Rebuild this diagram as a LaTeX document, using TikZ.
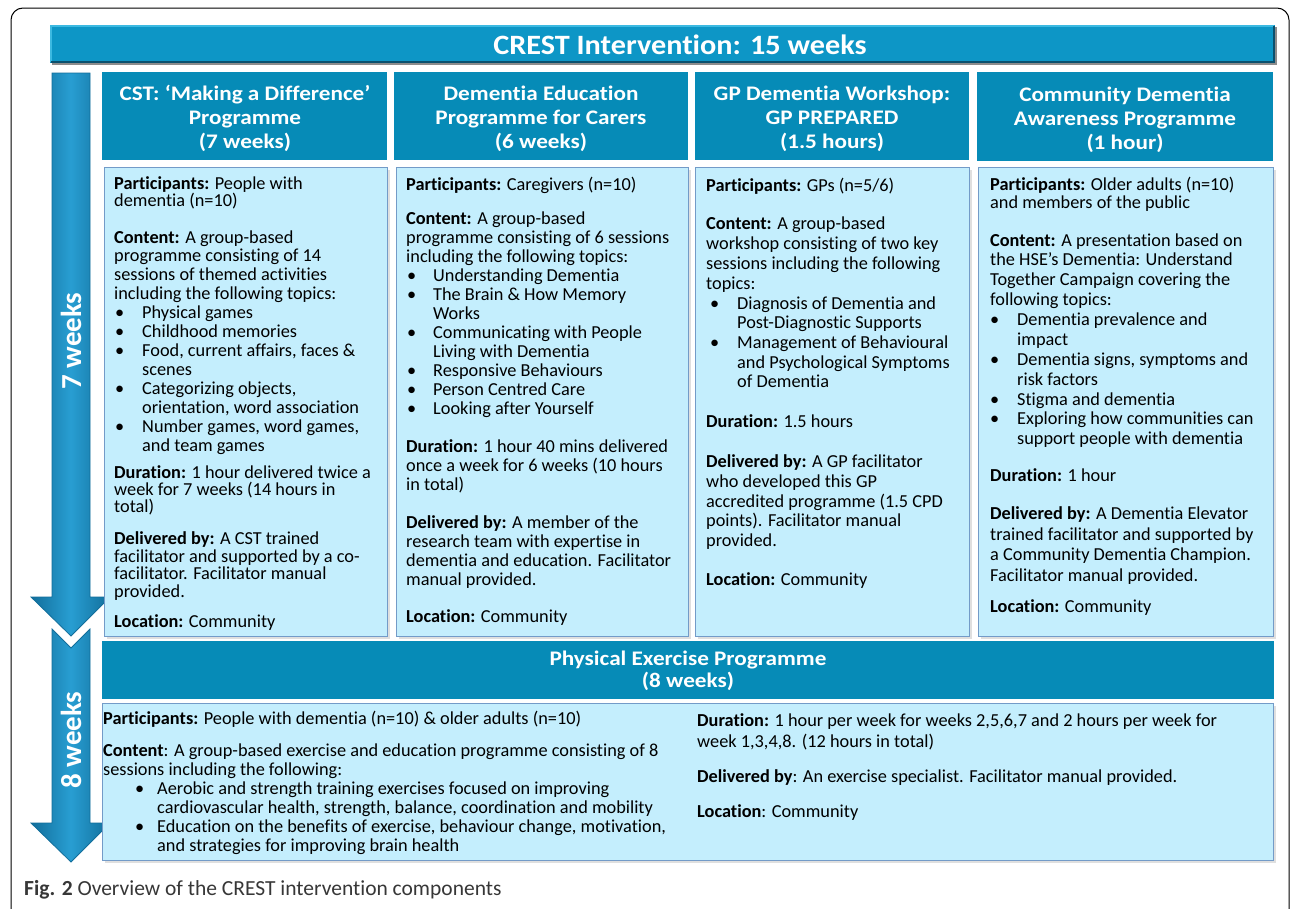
\documentclass[tikz,border=0pt]{standalone}
\usepackage{fontspec}
\setmainfont{Carlito}[Ligatures=NoCommon]
\newfontfamily\headfont{Carlito}[Ligatures=NoCommon, FakeStretch=1.12]
\newfontfamily\titlefont{Carlito}[Ligatures=NoCommon, FakeStretch=1.08]
\usetikzlibrary{shadows}
\definecolor{titlebar}{RGB}{13,150,198}
\definecolor{titledark}{RGB}{10,80,110}
\definecolor{titlelight}{RGB}{60,185,225}
\definecolor{headfill}{RGB}{6,139,183}
\definecolor{bodyfill}{RGB}{196,238,253}
\definecolor{bodyline}{RGB}{115,155,200}
\definecolor{arrowmid}{RGB}{40,158,210}
\definecolor{arrowedge}{RGB}{18,110,155}
\definecolor{capgray}{RGB}{55,55,55}
\newcounter{tn}
\newcommand\TL[3]{\stepcounter{tn}\node[txt] (t\arabic{tn}) at (#1,#2) {#3};}
\newcommand\BL[4]{\stepcounter{tn}\node[txt] (b\arabic{tn}) at (#1,#3) {\textbullet};\node[txt] (t\arabic{tn}) at (#2,#3) {#4};}
\newcommand\HL[3]{\stepcounter{tn}\node[htxt] (h\arabic{tn}) at (#1,#2) {#3};}
\tikzset{
  txt/.style={font=\fontsize{18.3}{19}\selectfont, inner sep=0pt, anchor=base west, text=black},
  htxt/.style={font=\headfont\fontsize{20.7}{25}\selectfont\bfseries, inner sep=0pt, anchor=base, text=white},
  headbox/.style={fill=headfill, draw=none, anchor=north west, inner sep=0pt},
  bodybox/.style={fill=bodyfill, draw=bodyline, line width=1pt, anchor=north west, inner sep=0pt,
    drop shadow={shadow xshift=2pt, shadow yshift=-2pt, opacity=0.25}},
  weekarrow/.style={left color=arrowedge, right color=arrowedge, middle color=arrowmid,
    draw=arrowedge, line width=0.8pt, line join=miter},
  weektxt/.style={text=white, rotate=90, font=\fontsize{29}{32}\selectfont\bfseries, inner sep=0pt}
}
\begin{document}
\begin{tikzpicture}[x=1pt,y=-1pt]
\useasboundingbox (0,0) rectangle (1290,908);
\fill[white] (0,0) rectangle (1290,908);
% outer frame
\draw[line width=1pt, rounded corners=12pt] (11,8) rectangle (1289,925);

% title bar
\node[fill=black!45, minimum width=1225pt, minimum height=38pt, anchor=north west, inner sep=0pt] (titleshadow) at (52,27) {};
\node[fill=titlebar, minimum width=1225pt, minimum height=38pt, anchor=north west, inner sep=0pt] (title) at (50,25) {};
\draw[titlelight, line width=2pt] (title.south west) ++(1,-1) |- ([xshift=-1pt,yshift=-1pt]title.north east);
\draw[titledark, line width=2pt] ([xshift=1pt,yshift=1pt]title.south west) -| ([xshift=-1pt,yshift=-1pt]title.north east);
\node[text=white, font=\titlefont\fontsize{28}{32}\selectfont\bfseries, inner sep=0pt] (titletext) at (680,45) {CREST Intervention: 15 weeks};

% week arrows
\path[weekarrow] (52,73) -- (90,73) -- (90,597) -- (110,597) -- (71,636) -- (31,597) -- (52,597) -- cycle;
\path[weekarrow] (52,629) -- (71,648) -- (90,629) -- (90,823) -- (110,823) -- (71,862) -- (31,823) -- (52,823) -- cycle;
\node[weektxt] (w7) at (71,341) {7 weeks};
\node[weektxt] (w8) at (71,740) {8 weeks};

% headers
\node[headbox, minimum width=285pt, minimum height=88pt] (h1) at (102,72) {};
\node[headbox, minimum width=294pt, minimum height=88pt] (h2) at (394,72) {};
\node[headbox, minimum width=274pt, minimum height=88pt] (h3) at (695,72) {};
\node[headbox, minimum width=296pt, minimum height=89pt] (h4) at (977,72) {};
\HL{245}{100}{CST: ‘Making a Difference’}
\HL{245}{124}{Programme}
\HL{245}{148}{(7 weeks)}
\HL{541}{100}{Dementia Education}
\HL{541}{124}{Programme for Carers}
\HL{541}{148}{(6 weeks)}
\HL{832}{100}{GP Dementia Workshop:}
\HL{832}{124}{GP PREPARED}
\HL{832}{148}{(1.5 hours)}
\HL{1125}{101}{Community Dementia}
\HL{1125}{125}{Awareness Programme}
\HL{1125}{149}{(1 hour)}

% body boxes
\node[bodybox, minimum width=283pt, minimum height=469pt] (c1) at (104,167) {};
\node[bodybox, minimum width=292pt, minimum height=469pt] (c2) at (396,167) {};
\node[bodybox, minimum width=274pt, minimum height=469pt] (c3) at (695,167) {};
\node[bodybox, minimum width=295pt, minimum height=469pt] (c4) at (978,167) {};

% exercise
\node[headbox, minimum width=1172pt, minimum height=58pt] (h5) at (102,641) {};
\HL{688}{665}{Physical Exercise Programme}
\HL{688}{687}{(8 weeks)}
\node[bodybox, minimum width=1171pt, minimum height=157pt] (c5) at (102,703) {};

% column 1 text
\TL{114}{189}{\textbf{Participants:} People with}
\TL{114}{206}{dementia (n=10)}
\TL{114}{243}{\textbf{Content:} A group-based}
\TL{114}{261}{programme consisting of 14}
\TL{114}{280}{sessions of themed activities}
\TL{114}{299}{including the following topics:}
\BL{115}{142}{318}{Physical games}
\BL{115}{142}{337}{Childhood memories}
\BL{115}{142}{356}{Food, current affairs, faces \&}
\TL{142}{375}{scenes}
\BL{115}{142}{394}{Categorizing objects,}
\TL{142}{413}{orientation, word association}
\BL{115}{142}{432}{Number games, word games,}
\TL{142}{451}{and team games}
\TL{114}{478}{\textbf{Duration:} 1 hour delivered twice a}
\TL{114}{495}{week for 7 weeks (14 hours in}
\TL{114}{512}{total)}
\TL{114}{544}{\textbf{Delivered by:} A CST trained}
\TL{114}{562}{facilitator and supported by a co-}
\TL{114}{579}{facilitator. Facilitator manual}
\TL{114}{597}{provided.}
\TL{114}{627}{\textbf{Location:} Community}

% column 2 text
\TL{406}{190}{\textbf{Participants:} Caregivers (n=10)}
\TL{406}{224}{\textbf{Content:} A group-based}
\TL{406}{243}{programme consisting of 6 sessions}
\TL{406}{262}{including the following topics:}
\BL{407}{433}{281}{Understanding Dementia}
\BL{407}{433}{300}{The Brain \& How Memory}
\TL{433}{319}{Works}
\BL{407}{433}{338}{Communicating with People}
\TL{433}{357}{Living with Dementia}
\BL{407}{433}{376}{Responsive Behaviours}
\BL{407}{433}{395}{Person Centred Care}
\BL{407}{433}{414}{Looking after Yourself}
\TL{406}{452}{\textbf{Duration:} 1 hour 40 mins delivered}
\TL{406}{471}{once a week for 6 weeks (10 hours}
\TL{406}{490}{in total)}
\TL{406}{528}{\textbf{Delivered by:} A member of the}
\TL{406}{547}{research team with expertise in}
\TL{406}{566}{dementia and education. Facilitator}
\TL{406}{585}{manual provided.}
\TL{406}{622}{\textbf{Location:} Community}

% column 3 text
\TL{706}{191}{\textbf{Participants:} GPs (n=5/6)}
\TL{706}{229}{\textbf{Content:} A group-based}
\TL{706}{249}{workshop consisting of two key}
\TL{706}{269}{sessions including the following}
\TL{706}{289}{topics:}
\BL{710}{737}{309}{Diagnosis of Dementia and}
\TL{737}{328}{Post-Diagnostic Supports}
\BL{710}{737}{348}{Management of Behavioural}
\TL{737}{368}{and Psychological Symptoms}
\TL{737}{387}{of Dementia}
\TL{706}{427}{\textbf{Duration:} 1.5 hours}
\TL{706}{467}{\textbf{Delivered by:} A GP facilitator}
\TL{706}{487}{who developed this GP}
\TL{706}{507}{accredited programme (1.5 CPD}
\TL{706}{526}{points). Facilitator manual}
\TL{706}{546}{provided.}
\TL{706}{585}{\textbf{Location:} Community}

% column 4 text
\TL{990}{190}{\textbf{Participants:} Older adults (n=10)}
\TL{990}{208}{and members of the public}
\TL{990}{246}{\textbf{Content:} A presentation based on}
\TL{990}{265}{the HSE’s Dementia: Understand}
\TL{990}{285}{Together Campaign covering the}
\TL{990}{305}{following topics:}
\BL{990}{1017}{325}{Dementia prevalence and}
\TL{1017}{345}{impact}
\BL{990}{1017}{365}{Dementia signs, symptoms and}
\TL{1017}{385}{risk factors}
\BL{990}{1017}{405}{Stigma and dementia}
\BL{990}{1017}{424}{Exploring how communities can}
\TL{1017}{444}{support people with dementia}
\TL{990}{481}{\textbf{Duration:} 1 hour}
\TL{990}{519}{\textbf{Delivered by:} A Dementia Elevator}
\TL{990}{540}{trained facilitator and supported by}
\TL{990}{560}{a Community Dementia Champion.}
\TL{990}{581}{Facilitator manual provided.}
\TL{990}{612}{\textbf{Location:} Community}

% exercise text
\TL{103}{724}{\textbf{Participants:} People with dementia (n=10) \& older adults (n=10)}
\TL{103}{756}{\textbf{Content}: A group-based exercise and education programme consisting of 8}
\TL{103}{775}{sessions including the following:}
\BL{135}{157}{794}{Aerobic and strength training exercises focused on improving}
\TL{157}{813}{cardiovascular health, strength, balance, coordination and mobility}
\BL{135}{157}{832}{Education on the benefits of exercise, behaviour change, motivation,}
\TL{157}{851}{and strategies for improving brain health}
\TL{697}{726}{\textbf{Duration:} 1 hour per week for weeks 2,5,6,7 and 2 hours per week for}
\TL{697}{747}{week 1,3,4,8. (12 hours in total)}
\TL{697}{782}{\textbf{Delivered by}: An exercise specialist. Facilitator manual provided.}
\TL{697}{817}{\textbf{Location}: Community}

% caption
\node[anchor=base west, inner sep=0pt, text=capgray, font=\fontsize{21.5}{24}\selectfont] (caption) at (24,895) {\textbf{Fig. 2} Overview of the CREST intervention components};
\end{tikzpicture}
\end{document}
